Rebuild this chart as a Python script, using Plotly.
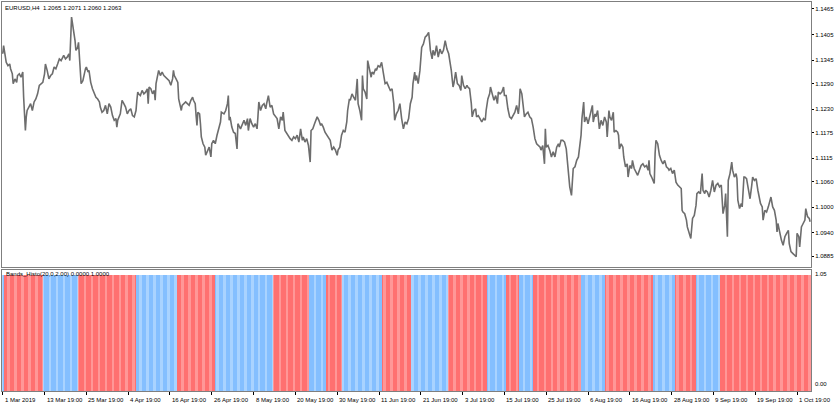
import plotly.graph_objects as go

# ---------------- data ----------------
price_bar = [
    2, 3, 6, 8, 10, 11, 13, 14, 16, 18, 19, 21, 23, 25, 26, 27, 28, 29, 30, 32,
    34, 36, 38, 40, 42, 44, 46, 48, 50, 51, 53, 55, 57, 59, 61, 63, 65, 67, 69, 71,
    72, 74, 76, 78, 79, 81, 82, 83, 85, 86, 88, 89, 90, 91, 92, 94, 95, 97, 98, 100,
    101, 103, 105, 107, 109, 111, 113, 114, 116, 118, 120, 122, 124, 126, 128, 130, 132, 133, 134, 137,
    138, 139, 141, 143, 145, 147, 149, 151, 153, 155, 156, 157, 158, 160, 162, 164, 166, 168, 169, 170,
    172, 174, 176, 177, 178, 179, 181, 183, 185, 187, 189, 191, 193, 195, 197, 198, 199, 201, 203, 204,
    205, 207, 208, 210, 212, 214, 216, 218, 220, 221, 223, 224, 225, 226, 228, 229, 230, 232, 234, 235,
    237, 239, 241, 242, 244, 246, 248, 250, 252, 253, 256, 258, 260, 261, 262, 263, 265, 267, 269, 271,
    272, 275, 277, 279, 281, 283, 284, 286, 288, 290, 292, 294, 295, 296, 298, 300, 302, 304, 305, 307,
    309, 311, 313, 315, 317, 319, 321, 323, 324, 326, 328, 330, 332, 334, 336, 338, 340, 342, 344, 346,
    347, 349, 351, 353, 355, 356, 358, 360, 362, 363, 365, 367, 368, 370, 372, 374, 376, 378, 380, 382,
    384, 386, 387, 389, 391, 393, 395, 397, 398, 400, 401, 403, 405, 407, 409, 410, 412, 414, 415, 416,
    418, 420, 421, 423, 425, 426, 428, 430, 431, 433, 435, 437, 439, 441, 443, 445, 447, 449, 451, 452,
    454, 456, 458, 460, 462, 464, 466, 468, 470, 472, 473, 475, 476, 477, 479, 481, 483, 485, 487, 489,
    491, 492, 493, 495, 496, 498, 500, 502, 504, 506, 508, 510, 512, 514, 515, 517, 519, 520, 522, 524,
    526, 528, 529, 531, 533, 535, 536, 538, 540, 541, 543, 545, 546, 548, 550, 552, 554, 556, 557, 559,
    561, 562, 564, 566, 568, 570, 571, 573, 575, 577, 578, 580, 582, 584, 586, 588, 590, 592, 594, 595,
    596, 598, 599, 601, 603, 605, 607, 609, 611, 613, 615, 617, 619, 620, 622, 624, 625, 626, 628, 630,
    632, 634, 636, 638, 640, 641, 643, 645, 647, 649, 651, 652, 653, 655, 656, 657, 659, 661, 663, 664,
    666, 667, 669, 670, 672, 674, 676, 678, 679, 680, 682, 683, 685, 687, 689, 691, 693, 695, 696, 698,
    699, 701, 703, 704, 706, 708, 709, 710, 712, 714, 715, 717, 719, 720, 722, 724, 725, 727, 729, 731,
    733, 735, 737, 739, 741, 743, 744, 745, 747, 749, 750, 751, 752, 754, 756, 758, 760, 762, 764, 766,
    767, 769, 771, 773, 775, 777, 779, 781, 782, 783, 785, 787, 788, 790, 792, 794, 796, 798, 799, 801,
    803, 805, 806, 808, 809, 811, 813, 815, 817, 819, 821, 823, 825, 827, 828, 829, 831, 832, 834, 835,
    837, 839, 840, 842, 844, 845, 846, 848, 850, 851, 853, 854, 856, 857, 859, 860, 862, 863, 865, 867,
    869, 871, 872, 874, 875, 877, 879, 881, 883, 884, 886, 888, 890, 891, 892, 894, 896, 898, 900, 902,
    904, 905, 907, 909, 911, 913, 914, 916, 917, 919, 921, 923, 924, 926, 928, 929,
]
price_close = [
    1.1360, 1.1379, 1.1340, 1.1332, 1.1336, 1.1325, 1.1313, 1.1290, 1.1301, 1.1293,
    1.1309, 1.1313, 1.1305, 1.1317, 1.1258, 1.1204, 1.1180, 1.1212, 1.1227, 1.1235,
    1.1243, 1.1227, 1.1247, 1.1254, 1.1266, 1.1286, 1.1290, 1.1293, 1.1313, 1.1336,
    1.1321, 1.1301, 1.1309, 1.1313, 1.1329, 1.1325, 1.1336, 1.1348, 1.1344, 1.1352,
    1.1356, 1.1348, 1.1352, 1.1360, 1.1344, 1.1446, 1.1434, 1.1414, 1.1391, 1.1368,
    1.1375, 1.1387, 1.1348, 1.1297, 1.1290, 1.1297, 1.1309, 1.1325, 1.1329, 1.1317,
    1.1321, 1.1293, 1.1278, 1.1266, 1.1258, 1.1254, 1.1247, 1.1235, 1.1223, 1.1227,
    1.1239, 1.1219, 1.1243, 1.1235, 1.1215, 1.1204, 1.1208, 1.1188, 1.1204, 1.1219,
    1.1247, 1.1251, 1.1243, 1.1235, 1.1219, 1.1227, 1.1231, 1.1215, 1.1212, 1.1227,
    1.1251, 1.1270, 1.1266, 1.1262, 1.1274, 1.1266, 1.1270, 1.1278, 1.1243, 1.1282,
    1.1278, 1.1266, 1.1274, 1.1251, 1.1290, 1.1301, 1.1321, 1.1309, 1.1317, 1.1309,
    1.1305, 1.1301, 1.1297, 1.1286, 1.1301, 1.1321, 1.1309, 1.1301, 1.1293, 1.1254,
    1.1243, 1.1227, 1.1239, 1.1243, 1.1247, 1.1243, 1.1239, 1.1251, 1.1258, 1.1251,
    1.1243, 1.1215, 1.1192, 1.1223, 1.1219, 1.1196, 1.1165, 1.1149, 1.1141, 1.1122,
    1.1134, 1.1141, 1.1118, 1.1149, 1.1157, 1.1149, 1.1169, 1.1188, 1.1200, 1.1223,
    1.1219, 1.1227, 1.1243, 1.1262, 1.1204, 1.1212, 1.1188, 1.1176, 1.1173, 1.1137,
    1.1196, 1.1184, 1.1196, 1.1204, 1.1192, 1.1208, 1.1180, 1.1208, 1.1196, 1.1188,
    1.1196, 1.1184, 1.1212, 1.1247, 1.1227, 1.1239, 1.1243, 1.1231, 1.1243, 1.1262,
    1.1235, 1.1239, 1.1219, 1.1212, 1.1208, 1.1184, 1.1212, 1.1204, 1.1223, 1.1180,
    1.1173, 1.1169, 1.1161, 1.1157, 1.1165, 1.1161, 1.1169, 1.1153, 1.1184, 1.1157,
    1.1165, 1.1153, 1.1161, 1.1145, 1.1106, 1.1180, 1.1184, 1.1196, 1.1208, 1.1212,
    1.1204, 1.1192, 1.1196, 1.1188, 1.1176, 1.1169, 1.1161, 1.1157, 1.1134, 1.1141,
    1.1134, 1.1122, 1.1134, 1.1141, 1.1169, 1.1180, 1.1176, 1.1200, 1.1227, 1.1254,
    1.1251, 1.1266, 1.1258, 1.1251, 1.1301, 1.1243, 1.1227, 1.1204, 1.1309, 1.1278,
    1.1270, 1.1254, 1.1344, 1.1321, 1.1305, 1.1317, 1.1313, 1.1325, 1.1321, 1.1332,
    1.1329, 1.1340, 1.1313, 1.1290, 1.1293, 1.1282, 1.1274, 1.1278, 1.1243, 1.1204,
    1.1219, 1.1227, 1.1243, 1.1208, 1.1184, 1.1200, 1.1196, 1.1208, 1.1243, 1.1258,
    1.1290, 1.1317, 1.1297, 1.1309, 1.1290, 1.1321, 1.1375, 1.1383, 1.1399, 1.1403,
    1.1410, 1.1391, 1.1368, 1.1348, 1.1368, 1.1356, 1.1379, 1.1352, 1.1371, 1.1360,
    1.1368, 1.1391, 1.1371, 1.1360, 1.1348, 1.1321, 1.1282, 1.1290, 1.1317, 1.1290,
    1.1286, 1.1274, 1.1309, 1.1286, 1.1278, 1.1286, 1.1282, 1.1278, 1.1243, 1.1212,
    1.1227, 1.1231, 1.1212, 1.1215, 1.1208, 1.1200, 1.1208, 1.1204, 1.1227, 1.1254,
    1.1266, 1.1282, 1.1266, 1.1251, 1.1262, 1.1243, 1.1270, 1.1266, 1.1270, 1.1282,
    1.1262, 1.1262, 1.1231, 1.1212, 1.1208, 1.1215, 1.1223, 1.1239, 1.1219, 1.1239,
    1.1278, 1.1266, 1.1243, 1.1212, 1.1219, 1.1223, 1.1212, 1.1208, 1.1188, 1.1161,
    1.1149, 1.1145, 1.1141, 1.1134, 1.1145, 1.1102, 1.1184, 1.1141, 1.1145, 1.1134,
    1.1118, 1.1130, 1.1118, 1.1141, 1.1149, 1.1141, 1.1157, 1.1157, 1.1153, 1.1137,
    1.1087, 1.1052, 1.1048, 1.1028, 1.1071, 1.1091, 1.1095, 1.1110, 1.1118, 1.1134,
    1.1169, 1.1208, 1.1247, 1.1200, 1.1212, 1.1196, 1.1212, 1.1231, 1.1239, 1.1200,
    1.1219, 1.1212, 1.1227, 1.1184, 1.1204, 1.1192, 1.1212, 1.1200, 1.1165, 1.1227,
    1.1212, 1.1204, 1.1223, 1.1176, 1.1180, 1.1176, 1.1169, 1.1137, 1.1149, 1.1141,
    1.1118, 1.1095, 1.1102, 1.1071, 1.1098, 1.1091, 1.1110, 1.1091, 1.1083, 1.1075,
    1.1087, 1.1098, 1.1102, 1.1095, 1.1098, 1.1087, 1.1110, 1.1079, 1.1071, 1.1063,
    1.1056, 1.1126, 1.1157, 1.1149, 1.1122, 1.1110, 1.1102, 1.1110, 1.1095, 1.1091,
    1.1087, 1.1091, 1.1079, 1.1087, 1.1059, 1.1052, 1.1048, 1.1044, 1.0993, 1.0989,
    1.0985, 1.0970, 1.0954, 1.0939, 1.0927, 1.0974, 1.0981, 1.1005, 1.1032, 1.1036,
    1.1032, 1.1079, 1.1040, 1.1032, 1.1040, 1.1036, 1.1024, 1.1040, 1.1063, 1.1036,
    1.1052, 1.1056, 1.1048, 1.1052, 1.1013, 1.0985, 1.1005, 1.1032, 1.0931, 1.1063,
    1.1079, 1.1106, 1.1087, 1.1071, 1.1079, 1.1067, 1.1017, 1.0997, 1.1009, 1.1001,
    1.1071, 1.1071, 1.1067, 1.1052, 1.1028, 1.1020, 1.1052, 1.1071, 1.1063, 1.1067,
    1.1040, 1.1024, 1.1009, 1.1001, 1.0970, 1.0993, 1.0989, 1.1001, 1.1013, 1.1024,
    1.1001, 1.0993, 1.0970, 1.0942, 1.0962, 1.0939, 1.0923, 1.0911, 1.0931, 1.0939,
    1.0946, 1.0915, 1.0896, 1.0892, 1.0888, 1.0884, 1.0939, 1.0931, 1.0907, 1.0954,
    1.0962, 1.0970, 1.0997, 1.0978, 1.0974, 1.0966,
]

n_bars = 930
hist_level = 1.0
hist_seg_start = [0, 5, 49, 89, 156, 203, 247, 313, 355, 374, 393, 439,
                  472, 514, 559, 581, 596, 612, 667, 695, 750, 775, 799, 827]
hist_seg_trend = ["up", "down", "up", "down", "up", "down", "up", "down",
                  "up", "down", "up", "down", "up", "down", "up", "down",
                  "up", "down", "up", "down", "up", "down", "up", "down"]

tick_bars = [2, 50, 98, 146, 194, 242, 290, 338, 386, 434,
             482, 530, 578, 626, 674, 722, 770, 818, 866, 914]
tick_labels = ["1 Mar 2019", "13 Mar 19:00", "25 Mar 19:00", "4 Apr 19:00",
               "16 Apr 19:00", "26 Apr 19:00", "8 May 19:00", "20 May 19:00",
               "30 May 19:00", "11 Jun 19:00", "21 Jun 19:00", "3 Jul 19:00",
               "15 Jul 19:00", "25 Jul 19:00", "6 Aug 19:00", "16 Aug 19:00",
               "28 Aug 19:00", "9 Sep 19:00", "19 Sep 19:00", "1 Oct 19:00"]
price_ticks = [1.1465, 1.1405, 1.1345, 1.1290, 1.1230, 1.1175,
               1.1115, 1.1060, 1.1000, 1.0940, 1.0885]
hist_ticks = ["1.05", "0.00"]

# ---------------- build ----------------
FONT = "Liberation Sans"
FS = 6
AXIS = "#7f7f7f"

hist_x = list(range(n_bars))
hist_y = [hist_level] * n_bars
palette = {"up": ("#84BFFF", "#A9D3FF"), "down": ("#FF7070", "#FF9797")}
hist_colors = []
seg = 0
for i in hist_x:
    while seg + 1 < len(hist_seg_start) and i >= hist_seg_start[seg + 1]:
        seg += 1
    dark, light = palette[hist_seg_trend[seg]]
    hist_colors.append(light if i % 8 < 3 else dark)

fig = go.Figure()
fig.add_trace(go.Scatter(
    x=price_bar, y=price_close, mode="lines",
    line=dict(color="#6d6d6d", width=1.6),
    xaxis="x", yaxis="y", hoverinfo="skip", showlegend=False))
fig.add_trace(go.Bar(
    x=hist_x, y=hist_y, width=1.0,
    marker=dict(color=hist_colors, line=dict(width=0)),
    xaxis="x2", yaxis="y2", hoverinfo="skip", showlegend=False))

xr = [1.15, 930.0]
fig.update_layout(
    width=835, height=407,
    margin=dict(l=1, r=23, t=1, b=16),
    paper_bgcolor="white", plot_bgcolor="white",
    bargap=0, showlegend=False,
    font=dict(family=FONT, size=FS, color="black"),
    xaxis=dict(domain=[0, 1], range=xr, anchor="y",
               showgrid=False, zeroline=False, showticklabels=False,
               showline=True, linecolor=AXIS, linewidth=1, mirror=True,
               ticks=""),
    yaxis=dict(domain=[0.318, 1], range=[1.08593, 1.14814], side="right",
               anchor="x", showgrid=False, zeroline=False,
               tickvals=price_ticks,
               ticktext=[f"{v:.4f}" for v in price_ticks],
               ticks="outside", ticklen=2, tickcolor="black",
               tickfont=dict(family=FONT, size=FS, color="black"),
               showline=True, linecolor=AXIS, linewidth=1, mirror=True),
    xaxis2=dict(domain=[0, 1], range=xr, anchor="y2",
                showgrid=False, zeroline=False, showticklabels=False,
                tickvals=tick_bars, ticks="outside", ticklen=3,
                tickcolor="black",
                showline=True, linecolor=AXIS, linewidth=1, mirror=True),
    yaxis2=dict(domain=[0, 0.3103], range=[0, 1.043], side="right",
                anchor="x2", showgrid=False, zeroline=False,
                showticklabels=False, ticks="",
                showline=True, linecolor=AXIS, linewidth=1, mirror=True),
)

ann = []
for b, lab in zip(tick_bars, tick_labels):
    ann.append(dict(x=b, xref="x2", y=0, yref="paper", text=lab,
                    showarrow=False, xanchor="left", yanchor="top",
                    xshift=0, yshift=-4,
                    font=dict(family=FONT, size=FS, color="black")))
ann.append(dict(x=0, xref="paper", y=1, yref="paper",
                text="EURUSD,H4  1.2065 1.2071 1.2060 1.2063",
                showarrow=False, xanchor="left", yanchor="top",
                xshift=1, yshift=-1,
                font=dict(family=FONT, size=FS, color="black")))
ann.append(dict(x=0, xref="paper", y=1, yref="y2 domain",
                text="Bands_Histo(20,0,2.00) 0.0000 1.0000",
                showarrow=False, xanchor="left", yanchor="top",
                xshift=2, yshift=1,
                font=dict(family=FONT, size=FS, color="black")))
ann.append(dict(x=1, xref="paper", y=1, yref="y2 domain", text=hist_ticks[0],
                showarrow=False, xanchor="left", yanchor="top",
                xshift=2, yshift=1,
                font=dict(family=FONT, size=FS, color="black")))
ann.append(dict(x=1, xref="paper", y=0, yref="y2 domain", text=hist_ticks[1],
                showarrow=False, xanchor="left", yanchor="bottom",
                xshift=2, yshift=2,
                font=dict(family=FONT, size=FS, color="black")))
fig.update_layout(annotations=ann)

fig.write_html("out.html",
               config={"displayModeBar": False},
               post_script="document.body.style.margin='0';"
                           "document.body.style.overflow='hidden';")
